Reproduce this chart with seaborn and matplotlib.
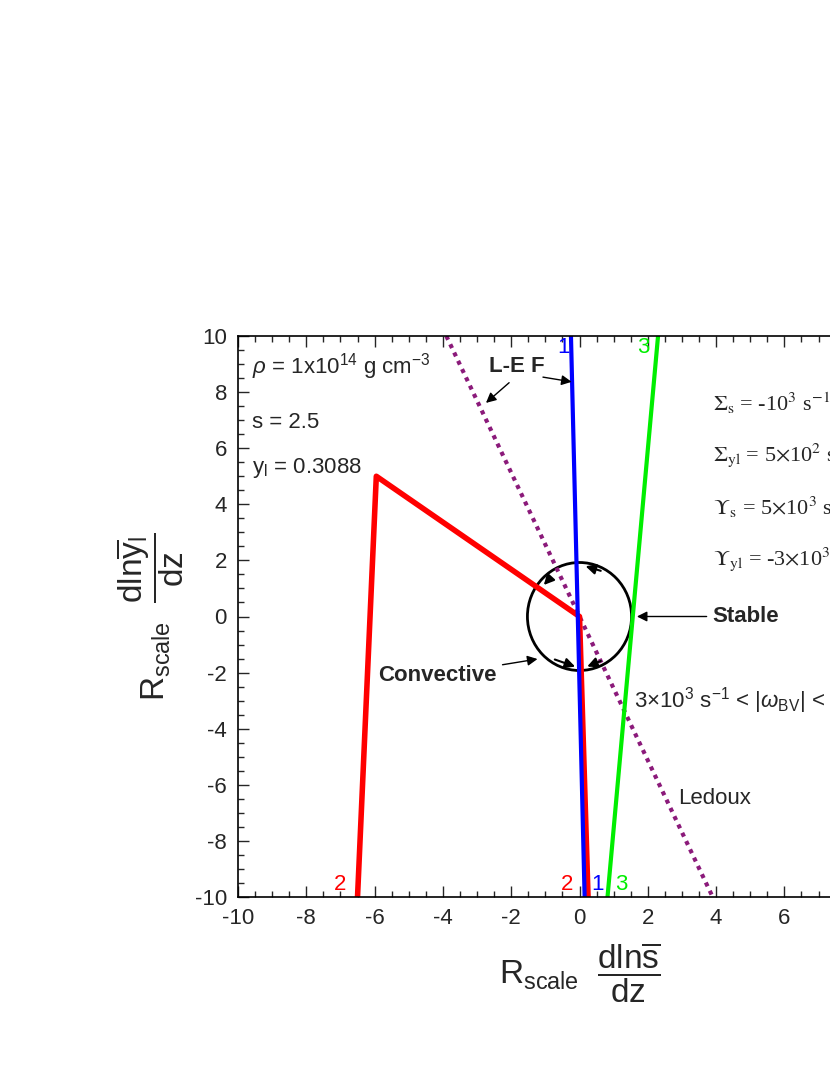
import matplotlib
matplotlib.use("Agg")
import matplotlib.pyplot as plt
import seaborn as sns
from matplotlib.patches import Ellipse
from matplotlib.ticker import MultipleLocator

sns.set_theme(style="white")
plt.rcParams['font.family'] = ['Liberation Sans', 'DejaVu Sans']
plt.rcParams['mathtext.fontset'] = 'custom'
plt.rcParams['mathtext.rm'] = 'Liberation Sans'
plt.rcParams['mathtext.it'] = 'Liberation Sans:italic'
plt.rcParams['axes.unicode_minus'] = False

red_x = [-6.5, -5.95, 0.0, 0.25]
red_y = [-10, 5, 0, -10]
blue_x = [-0.25, 0.15]
blue_y = [10, -10]
green_x = [2.3, 0.82]
green_y = [10, -10]
led_x = [-3.9, 3.9]
led_y = [10, -10]

fig = plt.figure(figsize=(8.3, 10.75), dpi=100)
ax = fig.add_axes([238/830, 1-897/1075, 683/830, 561/1075])
sns.lineplot(x=led_x, y=led_y, ax=ax, color='#8B1A7A', lw=3, linestyle=(0, (1, 1.2)), sort=False)
sns.lineplot(x=red_x, y=red_y, ax=ax, color='#FF0000', lw=4, sort=False)
sns.lineplot(x=blue_x, y=blue_y, ax=ax, color='#0000FF', lw=3, sort=False)
sns.lineplot(x=green_x, y=green_y, ax=ax, color='#00EE00', lw=3, sort=False)
ax.add_patch(Ellipse((0.0, 0.0), 3.05, 3.85, fill=False, color='black', lw=2))
for (x0, y0, x1, y1) in [(-0.8, 1.45, -1.1, 1.05), (0.7, 1.6, 0.1, 1.82),
                         (-0.8, -1.5, -0.05, -1.82), (0.7, -1.55, 0.15, -1.82)]:
    ax.annotate('', xy=(x1, y1), xytext=(x0, y0),
                arrowprops=dict(arrowstyle='-|>', color='black', lw=1.5, mutation_scale=15))

ax.set_xlim(-10, 10); ax.set_ylim(-10, 10)
ax.xaxis.set_major_locator(MultipleLocator(2)); ax.xaxis.set_minor_locator(MultipleLocator(0.5))
ax.yaxis.set_major_locator(MultipleLocator(2)); ax.yaxis.set_minor_locator(MultipleLocator(0.5))
ax.tick_params(which='both', direction='in', top=True, right=True, bottom=True, left=True, labelsize=16)
ax.tick_params(which='major', length=8, width=1, pad=8)
ax.tick_params(which='minor', length=4, width=1)
for s in ax.spines.values():
    s.set_color('black'); s.set_linewidth(1.2)

ax.set_xlabel(r'R$_{\rm scale}$  $\dfrac{{\rm dln}\overline{\rm s}}{\rm dz}$', fontsize=24, labelpad=8)
ax.set_ylabel(r'R$_{\rm scale}$  $\dfrac{{\rm dln}\overline{\rm y}_{\rm l}}{\rm dz}$', fontsize=24, labelpad=6)

ax.text(-9.6, 8.9, r'$\rho$ = 1x10$^{14}$ g cm$^{-3}$', fontsize=16, va='center')
ax.text(-9.6, 6.9, 's = 2.5', fontsize=16, va='center')
ax.text(-9.6, 5.3, r'y$_{\rm l}$ = 0.3088', fontsize=16, va='center')
for i, t in enumerate([r'$\Sigma_{\rm s}$ = -10$^3$ s$^{-1}$', r'$\Sigma_{\rm yl}$ = 5$\times$10$^2$ s$^{-1}$',
                       r'$\Upsilon_{\rm s}$ = 5$\times$10$^3$ s$^{-1}$', r'$\Upsilon_{\rm yl}$ = -3$\times$10$^3$ s$^{-1}$']):
    ax.text(3.9, 7.6 - 1.85*i, t, fontsize=16, va='center', family='Liberation Serif', math_fontfamily='stix')
ax.text(-2.65, 8.9, 'L-E F', fontsize=16, fontweight='bold', va='center')
ax.annotate('', xy=(-2.8, 7.55), xytext=(-2.0, 8.4),
            arrowprops=dict(arrowstyle='-|>', color='black', lw=1, mutation_scale=15))
ax.annotate('', xy=(-0.15, 8.35), xytext=(-1.15, 8.55),
            arrowprops=dict(arrowstyle='-|>', color='black', lw=1, mutation_scale=15))
ax.annotate('Stable', xy=(1.6, 0), xytext=(3.9, 0), fontsize=16, fontweight='bold', va='center',
            arrowprops=dict(arrowstyle='-|>', color='black', lw=1, mutation_scale=15))
ax.annotate('Convective', xy=(-1.15, -1.5), xytext=(-5.9, -2.1), fontsize=16, fontweight='bold', va='center',
            arrowprops=dict(arrowstyle='-|>', color='black', lw=1, mutation_scale=15))
ax.text(1.6, -3.0, r'3$\times$10$^3$ s$^{-1}$ < |$\omega_{\rm BV}$| < 5$\times$10$^3$ s$^{-1}$', fontsize=16, va='center')
ax.text(2.9, -6.5, 'Ledoux', fontsize=16, va='center')
ax.text(-7.2, -9.55, '2', color='#FF0000', fontsize=16, va='center')
ax.text(-0.55, -9.55, '2', color='#FF0000', fontsize=16, va='center')
ax.text(0.35, -9.55, '1', color='#0000FF', fontsize=16, va='center')
ax.text(1.05, -9.55, '3', color='#00EE00', fontsize=16, va='center')
ax.text(-0.65, 9.6, '1', color='#0000FF', fontsize=16, va='center')
ax.text(1.7, 9.6, '3', color='#00EE00', fontsize=16, va='center')

fig.savefig('out.png', dpi=100)
